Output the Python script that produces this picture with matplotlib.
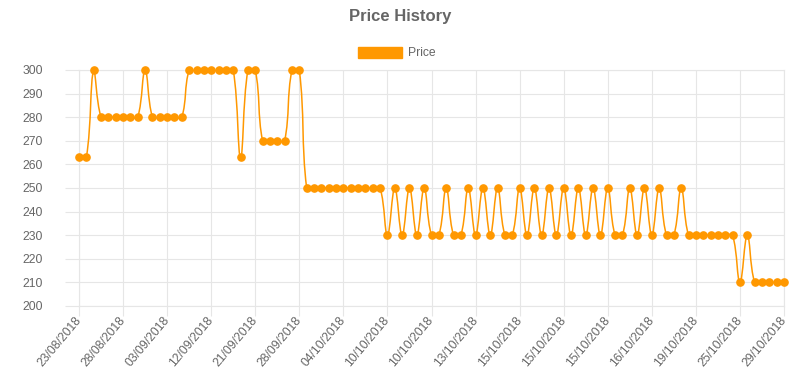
import numpy as np
import matplotlib
matplotlib.use("Agg")
import matplotlib.pyplot as plt
from matplotlib.path import Path
from matplotlib.patches import PathPatch, Patch

plt.rcParams['font.family'] = ['Liberation Sans', 'DejaVu Sans']

# one value per recorded price, left to right
prices = [
    263, 263, 300, 280, 280, 280, 280, 280, 280, 300,
    280, 280, 280, 280, 280, 300, 300, 300, 300, 300,
    300, 300, 263, 300, 300, 270, 270, 270, 270, 300,
    300, 250, 250, 250, 250, 250, 250, 250, 250, 250,
    250, 250, 230, 250, 230, 250, 230, 250, 230, 230,
    250, 230, 230, 250, 230, 250, 230, 250, 230, 230,
    250, 230, 250, 230, 250, 230, 250, 230, 250, 230,
    250, 230, 250, 230, 230, 250, 230, 250, 230, 250,
    230, 230, 250, 230, 230, 230, 230, 230, 230, 230,
    210, 230, 210, 210, 210, 210, 210,
]

# labels shown on the x axis (every 6th point)
date_ticks = [
    "23/08/2018", "28/08/2018", "03/09/2018", "12/09/2018", "21/09/2018",
    "28/09/2018", "04/10/2018", "10/10/2018", "10/10/2018", "13/10/2018",
    "15/10/2018", "15/10/2018", "15/10/2018", "16/10/2018", "19/10/2018",
    "25/10/2018", "29/10/2018",
]
tick_step = 6

ORANGE = '#ff9800'
GRID = '#e6e6e6'
TEXT = '#666666'


def spline_path(ax, x, y, tension=0.4):
    """Chart.js-like bezier through the points, control points in pixel space."""
    pts = ax.transData.transform(np.column_stack([x, y]))
    n = len(pts)
    cp_prev = np.zeros_like(pts)
    cp_next = np.zeros_like(pts)
    for i in range(n):
        prev = pts[max(i - 1, 0)]
        cur = pts[i]
        nxt = pts[min(i + 1, n - 1)]
        d01 = np.hypot(*(cur - prev))
        d12 = np.hypot(*(nxt - cur))
        tot = d01 + d12
        s01 = d01 / tot if tot else 0.0
        s12 = d12 / tot if tot else 0.0
        cp_prev[i] = cur - tension * s01 * (nxt - prev)
        cp_next[i] = cur + tension * s12 * (nxt - prev)

    # keep control points inside the chart area
    bb = ax.bbox
    for cp in (cp_prev, cp_next):
        cp[:, 0] = np.clip(cp[:, 0], bb.x0, bb.x1)
        cp[:, 1] = np.clip(cp[:, 1], bb.y0, bb.y1)

    verts = [pts[0]]
    codes = [Path.MOVETO]
    for i in range(n - 1):
        verts += [cp_next[i], cp_prev[i + 1], pts[i + 1]]
        codes += [Path.CURVE4] * 3
    inv = ax.transData.inverted()
    return Path(inv.transform(np.array(verts)), codes)


fig = plt.figure(figsize=(8, 3.78), dpi=100)
ax = fig.add_axes([79 / 800, 1 - 306 / 378, (784 - 79) / 800, (306 - 70) / 378])

x = np.arange(len(prices))
y = np.array(prices, dtype=float)
ax.set_xlim(0, len(prices) - 1)
ax.set_ylim(200, 300)

line = PathPatch(spline_path(ax, x, y), facecolor='none', edgecolor=ORANGE,
                 lw=1.1, zorder=3)
ax.add_patch(line)
ax.plot(x, y, 'o', color=ORANGE, markersize=5.2, clip_on=False, zorder=4)

ax.set_yticks(range(200, 301, 10))
ax.set_xticks(x[::tick_step])
ax.set_xticklabels(date_ticks, rotation=50, ha='right', va='center',
                   rotation_mode='anchor')
ax.grid(True, color=GRID, lw=0.8)
ax.set_axisbelow(True)
for s in ax.spines.values():
    s.set_color(GRID)
    s.set_linewidth(0.8)
ax.tick_params(axis='x', colors=GRID, labelcolor=TEXT, labelsize=8.7,
               length=7, width=0.8, pad=2)
ax.tick_params(axis='y', colors=GRID, labelcolor=TEXT, labelsize=8.7,
               length=10, width=0.8, pad=16)

fig.text(0.5, 1 - 17 / 378, 'Price History', ha='center', va='center',
         fontsize=12, fontweight='bold', color=TEXT)

fig.legend([Patch(facecolor=ORANGE, edgecolor=ORANGE)], ['Price'],
           loc='center', bbox_to_anchor=(397 / 800, 1 - 53 / 378),
           frameon=False, fontsize=8.7, labelcolor=TEXT,
           handlelength=3.6, handleheight=1.05, handletextpad=0.5)

fig.savefig('out.png', dpi=100)
